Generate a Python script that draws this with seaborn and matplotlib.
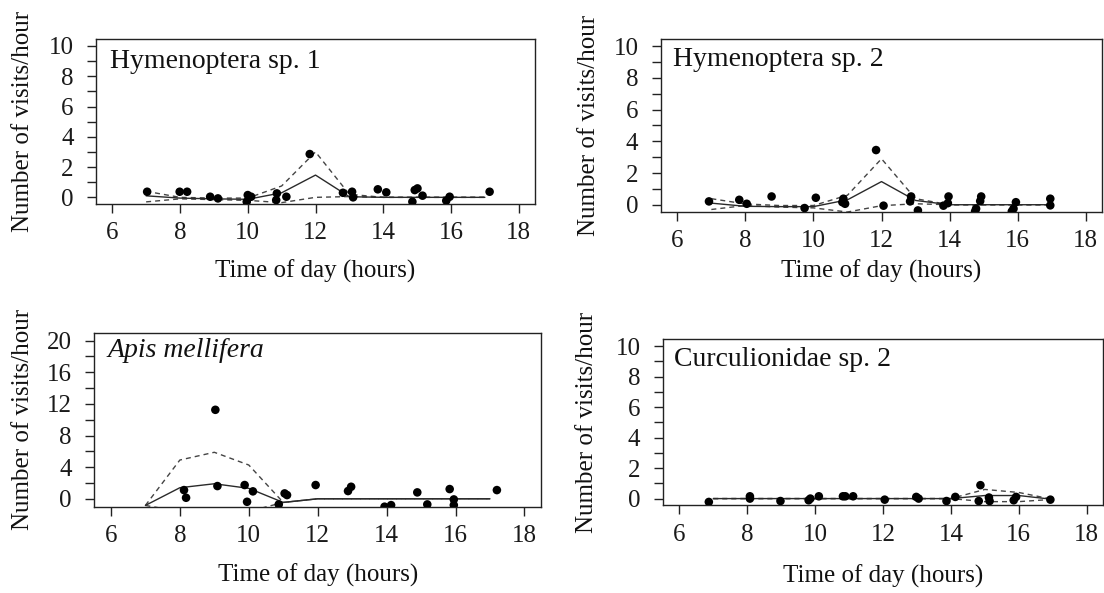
import numpy as np
import pandas as pd
import matplotlib
matplotlib.use("Agg")
import matplotlib.pyplot as plt
import seaborn as sns
from matplotlib.ticker import FixedLocator, FuncFormatter

sns.set_theme(style="ticks")
plt.rcParams['font.family'] = ['Liberation Serif', 'DejaVu Serif']

# ---------------- data ----------------
fit_hours = [7, 8, 9, 10, 11, 12, 13, 14, 15, 16, 17]

# Hymenoptera sp. 1
h1_time = [7.03, 7.99, 8.21, 8.89, 9.12, 9.97, 10.0, 10.1, 10.84, 10.86, 11.14, 11.83,
           12.81, 13.08, 13.11, 13.84, 14.09, 14.86, 14.93, 15.01, 15.16, 15.86, 15.96, 17.14]
h1_visits = [0.37, 0.37, 0.37, 0.04, -0.07, -0.29, 0.15, 0.04, -0.18, 0.26, 0.04, 2.86,
             0.30, 0.37, 0.0, 0.53, 0.33, -0.29, 0.48, 0.59, 0.11, -0.22, 0.04, 0.37]
h1_fit = [0.10, -0.05, -0.10, -0.13, 0.30, 1.47, 0.04, 0.0, 0.0, 0.0, 0.0]
h1_upper = [0.40, 0.0, -0.05, -0.05, 0.75, 3.0, 0.20, 0.0, 0.0, 0.0, 0.0]
h1_lower = [-0.30, -0.10, -0.15, -0.20, -0.35, 0.0, 0.05, 0.0, 0.0, 0.0, 0.0]

# Hymenoptera sp. 2
h2_time = [6.93, 7.82, 8.04, 8.77, 9.74, 10.07, 10.85, 10.88, 10.93, 11.84, 12.06, 12.84,
           12.87, 13.07, 13.82, 13.95, 13.97, 14.75, 14.78, 14.9, 14.93, 15.83, 15.88,
           15.95, 16.96, 16.96]
h2_visits = [0.21, 0.31, 0.06, 0.52, -0.21, 0.44, 0.16, 0.38, 0.06, 3.45, -0.06, 0.21,
             0.52, -0.36, -0.06, 0.10, 0.52, -0.42, -0.25, 0.23, 0.52, -0.42, -0.25,
             0.16, 0.38, -0.04]
h2_fit = [0.10, -0.10, -0.12, -0.12, 0.31, 1.46, 0.27, 0.0, 0.0, 0.0, 0.0]
h2_upper = [0.38, 0.05, -0.05, -0.05, 0.60, 2.90, 0.38, 0.0, 0.0, 0.0, 0.0]
h2_lower = [-0.30, -0.05, -0.15, -0.20, -0.46, -0.06, 0.06, 0.0, 0.0, 0.0, 0.0]

# Apis mellifera
am_time = [8.12, 8.18, 9.03, 9.09, 9.88, 9.95, 10.12, 10.87, 11.04, 11.11, 11.94, 12.88,
           12.97, 13.94, 14.13, 14.89, 15.18, 15.83, 15.95, 15.95, 17.2]
am_visits = [1.10, 0.13, 11.25, 1.61, 1.74, -0.38, 0.94, -0.71, 0.68, 0.47, 1.74, 0.98,
             1.52, -1.0, -0.8, 0.81, -0.71, 1.23, -0.08, -0.8, 1.10]
am_fit = [-0.84, 1.40, 1.90, 1.32, -0.46, 0.0, 0.0, 0.0, 0.0, 0.0, 0.0]
am_upper = [-0.84, 4.90, 5.88, 4.27, -0.46, 0.0, 0.0, 0.0, 0.0, 0.0, 0.0]
am_lower = [-0.84, -1.60, -1.70, -1.60, -0.46, 0.0, 0.0, 0.0, 0.0, 0.0, 0.0]

# Curculionidae sp. 2
cu_time = [6.87, 8.08, 8.08, 8.98, 9.81, 9.86, 10.11, 10.82, 10.89, 11.12, 12.05, 12.98,
           13.05, 13.87, 14.13, 14.82, 14.87, 15.12, 15.14, 15.85, 15.92, 16.93]
cu_visits = [-0.22, 0.15, 0.0, -0.16, -0.11, 0.0, 0.15, 0.15, 0.15, 0.15, -0.07, 0.11,
             0.0, -0.16, 0.11, -0.16, 0.88, 0.07, -0.16, -0.11, 0.11, -0.07]
cu_fit = [0.0, 0.0, 0.0, 0.0, 0.0, 0.0, 0.0, 0.0, 0.20, 0.20, -0.05]
cu_upper = [0.0, 0.0, 0.0, 0.0, 0.0, 0.0, 0.0, 0.0, 0.60, 0.40, -0.05]
cu_lower = [0.0, 0.0, 0.0, 0.0, 0.0, 0.0, 0.0, 0.0, -0.20, -0.20, -0.05]

x_ticks = [6, 8, 10, 12, 14, 16, 18]
x_label = "Time of day (hours)"
y_label = "Number of visits/hour"

panels = [
    dict(name="Hymenoptera sp. 1", italic=False, t=h1_time, v=h1_visits, fit=h1_fit,
         up=h1_upper, lo=h1_lower, ymax=10, ystep=1, lstep=2,
         rect=[96, 39.3, 535, 204], title_xy=(0.032, 0.864), xlab_d=67.7, ylab_x=23),
    dict(name="Hymenoptera sp. 2", italic=False, t=h2_time, v=h2_visits, fit=h2_fit,
         up=h2_upper, lo=h2_lower, ymax=10, ystep=1, lstep=2,
         rect=[661, 39.3, 1102, 211.7], title_xy=(0.028, 0.88), xlab_d=60, ylab_x=589),
    dict(name="Apis mellifera", italic=True, t=am_time, v=am_visits, fit=am_fit,
         up=am_upper, lo=am_lower, ymax=20, ystep=2, lstep=4,
         rect=[94.4, 332.7, 541, 506.7], title_xy=(0.029, 0.895), xlab_d=69, ylab_x=23),
    dict(name="Curculionidae sp. 2", italic=False, t=cu_time, v=cu_visits, fit=cu_fit,
         up=cu_upper, lo=cu_lower, ymax=10, ystep=1, lstep=2,
         rect=[663, 339.3, 1103, 505.3], title_xy=(0.024, 0.88), xlab_d=71, ylab_x=587),
]

W, H = 1104, 593
fig = plt.figure(figsize=(W / 100, H / 100), dpi=100)
fig.patch.set_facecolor("white")

for p in panels:
    x0, y0, x1, y1 = p["rect"]
    ax = fig.add_axes([x0 / W, 1 - y1 / H, (x1 - x0) / W, (y1 - y0) / H])
    ax.set_facecolor("white")

    pts = pd.DataFrame({"time": p["t"], "visits": p["v"]})
    fit = pd.DataFrame({"hour": fit_hours, "fit": p["fit"], "up": p["up"], "lo": p["lo"]})

    sns.lineplot(data=fit, x="hour", y="up", ax=ax, color="#444444", lw=1.0,
                 linestyle=(0, (3.6, 2.9)), sort=False, estimator=None)
    sns.lineplot(data=fit, x="hour", y="lo", ax=ax, color="#444444", lw=1.0,
                 linestyle=(0, (3.6, 2.9)), sort=False, estimator=None)
    sns.lineplot(data=fit, x="hour", y="fit", ax=ax, color="#2a2a2a", lw=1.0,
                 sort=False, estimator=None)
    sns.scatterplot(data=pts, x="time", y="visits", ax=ax, color="black", s=38,
                    edgecolor="none", zorder=4)

    ymax = p["ymax"]
    ax.set_xlim(5.52, 18.48)
    ax.set_ylim(-0.044 * ymax if ymax == 10 else -1.0, ymax * 1.044 if ymax == 10 else 21.0)
    ax.xaxis.set_major_locator(FixedLocator(x_ticks))
    yt = list(range(0, ymax + 1, p["ystep"]))
    ax.yaxis.set_major_locator(FixedLocator(yt))
    lstep = p["lstep"]
    ax.yaxis.set_major_formatter(FuncFormatter(
        lambda val, pos, ls=lstep: f"{int(round(val))}" if int(round(val)) % ls == 0 else ""))

    ax.tick_params(axis="both", direction="out", length=6.7, width=1.0, color="#222222",
                   labelsize=18, labelcolor="#1a1a1a")
    ax.tick_params(axis="x", pad=6.5)
    ax.tick_params(axis="y", pad=9.5)
    for sp in ax.spines.values():
        sp.set_visible(True)
        sp.set_color("#222222")
        sp.set_linewidth(1.0)

    ax.set_xlabel(x_label, fontsize=18, color="#111111")
    ax.set_ylabel(y_label, fontsize=18, color="#111111")
    ah = y1 - y0
    aw = x1 - x0
    ax.xaxis.set_label_coords(0.5, -p["xlab_d"] / ah)
    ax.xaxis.label.set_va("center")
    ax.yaxis.set_label_coords((p["ylab_x"] - x0) / aw, 0.5)
    ax.yaxis.label.set_va("center")
    ax.yaxis.label.set_ha("center")

    ax.text(p["title_xy"][0], p["title_xy"][1], p["name"], transform=ax.transAxes,
            ha="left", va="center", fontsize=20, color="#111111",
            style="italic" if p["italic"] else "normal")

fig.savefig("out.png", dpi=100, facecolor="white")
